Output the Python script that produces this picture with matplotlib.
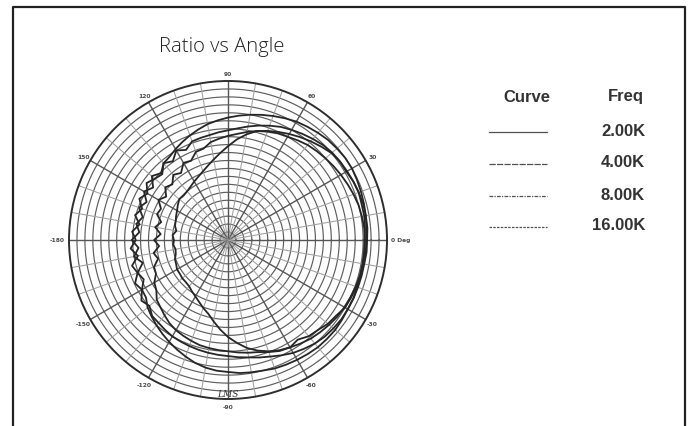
import numpy as np
import matplotlib

matplotlib.use("Agg")
import matplotlib.pyplot as plt
from matplotlib.lines import Line2D

# polar response, ratio of full scale, sampled every 5 degrees (0 = east, CCW)
angles_deg = list(range(0, 360, 5))

ratio_2k = [
    0.87, 0.875, 0.88, 0.885, 0.89, 0.895, 0.90, 0.90, 0.895, 0.89, 0.88, 0.87,
    0.86, 0.845, 0.83, 0.815, 0.80, 0.785, 0.77, 0.755, 0.74, 0.72, 0.70, 0.68,
    0.66, 0.64, 0.63, 0.595, 0.625, 0.575, 0.61, 0.565, 0.595, 0.555, 0.585, 0.56,
    0.605, 0.565, 0.60, 0.555, 0.605, 0.585, 0.625, 0.63, 0.66, 0.68, 0.70, 0.72,
    0.74, 0.76, 0.78, 0.80, 0.815, 0.825, 0.83, 0.84, 0.845, 0.85, 0.86, 0.865,
    0.87, 0.875, 0.88, 0.88, 0.88, 0.875, 0.87, 0.87, 0.865, 0.865, 0.865, 0.87,
]
ratio_4k = [
    0.875, 0.88, 0.88, 0.88, 0.875, 0.87, 0.865, 0.86, 0.855, 0.845, 0.83, 0.815,
    0.80, 0.785, 0.765, 0.745, 0.725, 0.705, 0.69, 0.68, 0.67, 0.665, 0.66, 0.625,
    0.65, 0.605, 0.63, 0.585, 0.60, 0.625, 0.585, 0.615, 0.575, 0.605, 0.565, 0.605,
    0.58, 0.615, 0.575, 0.625, 0.605, 0.645, 0.625, 0.665, 0.645, 0.675, 0.68, 0.69,
    0.70, 0.705, 0.71, 0.715, 0.72, 0.725, 0.73, 0.74, 0.75, 0.765, 0.78, 0.80,
    0.82, 0.835, 0.85, 0.86, 0.865, 0.87, 0.87, 0.87, 0.87, 0.87, 0.87, 0.875,
]
ratio_8k = [
    0.86, 0.865, 0.87, 0.87, 0.875, 0.87, 0.86, 0.86, 0.85, 0.83, 0.81, 0.79,
    0.77, 0.75, 0.73, 0.71, 0.69, 0.67, 0.655, 0.64, 0.625, 0.595, 0.59, 0.55,
    0.56, 0.515, 0.535, 0.495, 0.515, 0.475, 0.505, 0.465, 0.475, 0.435, 0.465, 0.425,
    0.465, 0.435, 0.475, 0.455, 0.495, 0.50, 0.535, 0.55, 0.585, 0.60, 0.62, 0.64,
    0.655, 0.665, 0.675, 0.685, 0.69, 0.695, 0.70, 0.71, 0.72, 0.73, 0.75, 0.77,
    0.78, 0.765, 0.79, 0.80, 0.82, 0.83, 0.85, 0.855, 0.86, 0.86, 0.86, 0.86,
]
ratio_16k = [
    0.86, 0.86, 0.855, 0.85, 0.84, 0.83, 0.82, 0.81, 0.80, 0.79, 0.78, 0.765,
    0.75, 0.74, 0.725, 0.71, 0.675, 0.635, 0.59, 0.55, 0.515, 0.485, 0.46, 0.44,
    0.425, 0.41, 0.40, 0.395, 0.40, 0.385, 0.37, 0.36, 0.35, 0.345, 0.33, 0.35,
    0.34, 0.345, 0.335, 0.34, 0.355, 0.36, 0.37, 0.37, 0.375, 0.375, 0.38, 0.395,
    0.41, 0.43, 0.455, 0.48, 0.52, 0.565, 0.61, 0.65, 0.69, 0.72, 0.745, 0.765,
    0.78, 0.795, 0.81, 0.82, 0.83, 0.84, 0.845, 0.85, 0.855, 0.86, 0.86, 0.86,
]

freq_labels = ["2.00K", "4.00K", "8.00K", "16.00K"]
curves = [ratio_2k, ratio_4k, ratio_8k, ratio_16k]
legend_styles = ["-", (0, (5, 1)), (0, (3, 1, 1, 1)), (0, (2, 1))]

angle_ticks = [0, 30, 60, 90, 120, 150, 180, 210, 240, 270, 300, 330]
angle_tick_labels = ["0 Deg", "30", "60", "90", "120", "150",
                     "-180", "-150", "-120", "-90", "-60", "-30"]

W, H = 689, 427
fig = plt.figure(figsize=(W / 100, H / 100), dpi=100)

# polar chart: centre (228, 241) px, radius 159 px
cx, cy, R = 228, 241, 159
ax = fig.add_axes([(cx - R) / W, (H - cy - R) / H, 2 * R / W, 2 * R / H],
                  projection="polar")
ax.set_theta_zero_location("E")
ax.set_ylim(0, 1)
ax.set_xticks([])
ax.set_yticks([])
ax.grid(False)
ax.spines["polar"].set_color("#2e2e2e")
ax.spines["polar"].set_linewidth(1.4)

full = np.linspace(0, 2 * np.pi, 361)
for r in np.arange(0.05, 0.999, 0.05):
    ax.plot(full, np.full_like(full, r), color="#5e5e5e", lw=0.85, zorder=1)
for a in range(0, 360, 10):
    dark = a % 30 == 0
    ax.plot([np.radians(a)] * 2, [0, 1], color="#555555" if dark else "#a0a0a0",
            lw=1.0 if dark else 0.75, zorder=1)

for vals in curves:
    th = np.radians(angles_deg + [360])
    rr = list(vals) + [vals[0]]
    ax.plot(th, rr, color="#262626", lw=1.3, zorder=3)

lab_kw = dict(va="center", fontsize=4.3, color="#4a4a4a", fontweight="bold")
for a, lab in zip(angle_ticks, angle_tick_labels):
    if a == 0:
        ax.text(0, 1.025, lab, ha="left", **lab_kw)
    elif a == 180:
        ax.text(np.pi, 1.025, lab, ha="right", **lab_kw)
    else:
        ax.text(np.radians(a), 1.05, lab, ha="center", **lab_kw)

ax.text(np.radians(270), 0.965, "LMS", ha="center", va="center", fontsize=6.5,
        family="DejaVu Serif", style="italic", color="#333333")

fig.text(222 / W, 1 - 47 / H, "Ratio vs Angle", ha="center", va="center",
         fontsize=14.6, family="Open Sans", fontweight="light", color="#222222")

# legend table
bold = dict(family="Liberation Sans", fontweight="bold", fontsize=12,
            color="#333333", va="center")
fig.text(527 / W, 1 - 97 / H, "Curve", ha="center", **bold)
fig.text(644 / W, 1 - 97 / H, "Freq", ha="right", **bold)
row_y = [131, 163, 195, 226]
for y, lab, ls in zip(row_y, freq_labels, legend_styles):
    fig.text(645 / W, 1 - y / H, lab, ha="right", **bold)
    fig.add_artist(Line2D([489 / W, 547 / W], [1 - (y + 1.5) / H] * 2,
                          transform=fig.transFigure, color="#505050", lw=0.9,
                          linestyle=ls))

# page frame (left, top, right edges)
frame = dict(transform=fig.transFigure, color="#222222", lw=1.6)
fig.add_artist(Line2D([12.5 / W, 12.5 / W, 684.5 / W, 684.5 / W],
                      [0, 1 - 8 / H, 1 - 8 / H, 0], **frame))

fig.savefig("out.png", dpi=100)
